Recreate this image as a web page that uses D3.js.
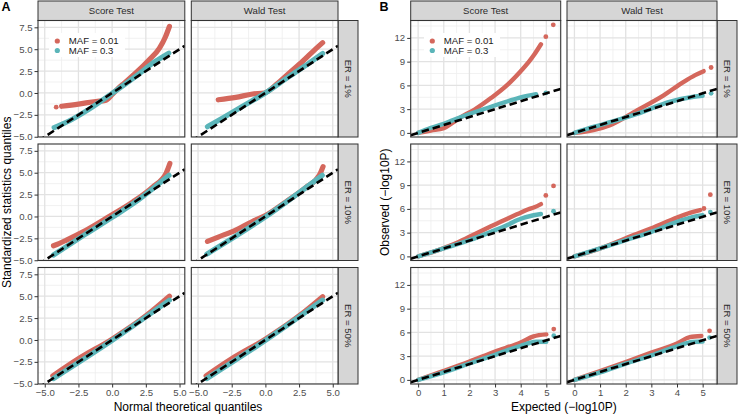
<!DOCTYPE html>
<html lang="en">
<head>
<meta charset="UTF-8">
<title>QQ plots</title>
<script src="https://cdn.jsdelivr.net/npm/d3@7"></script>
<style>
  body { margin: 0; background: #fff; }
  svg text { font-family: "Liberation Sans", Arial, Helvetica, sans-serif; }
</style>
</head>
<body>
<div id="chart"></div>
<script>
const tests = ["Score Test", "Wald Test"];
const errorRates = ["ER = 1%", "ER = 10%", "ER = 50%"];
const mafLabels = ["MAF = 0.01", "MAF = 0.3"];
const mafColors = ["#D4675C", "#5BB5B9"];

// A: [normal theoretical quantile, standardized statistic]
const aScore1Rare = [[-3.75,-1.52],[-2.5,-1.27],[-1.2,-0.97],[-0.5,-0.85],[0.05,-0.1],[0.5,0.6],[0.9,1.12],[1.75,2.28],[2.75,3.8],[3.5,5.1],[3.95,6.4],[4.25,7.6]];
const aScore1RareDots = [[-4.15,-1.62]];
const aScore1Common = [[-4.3,-3.95],[-3.2,-3.2],[-1.7,-1.85],[0,-0.05],[1.75,1.9],[3.2,3.6],[4.2,4.55]];
const aWald1Rare = [[-3.5,-0.78],[-2.2,-0.5],[-0.95,-0.12],[-0.07,0.0],[0.8,0.95],[1.78,2.29],[2.77,3.62],[3.64,4.9],[4.25,5.75]];
const aWald1Common = [[-4.3,-3.85],[-3.17,-2.86],[-1.69,-1.52],[0,0],[1.78,1.9],[3.27,3.43],[4.25,4.5]];
const aScore2Rare = [[-4.35,-3.35],[-4.1,-3.2],[-3.39,-2.7],[-2.16,-1.76],[-0.19,0.03],[1.54,1.67],[3.02,3.39],[4.0,4.92],[4.15,5.5],[4.28,6.05]];
const aScore2Common = [[-4.35,-4.4],[-2,-2.05],[0,-0.1],[2,1.95],[4.22,4.7]];
const aWald2Rare = [[-4.3,-2.85],[-3.5,-2.35],[-2.2,-1.55],[-1,-0.6],[0,0.1],[1.5,1.65],[3,3.3],[4.0,4.7],[4.28,5.7]];
const aWald2Common = [[-4.35,-4.3],[0,-0.05],[4.22,4.7]];
const aScore3Rare = [[-4.4,-4.1],[-2.5,-2.15],[0,0.1],[2.5,2.75],[4.25,5.0]];
const aScore3Common = [[-4.35,-4.4],[0,-0.05],[4.25,4.55]];
const aWald3Rare = [[-4.4,-4.1],[-2.5,-2.15],[0,0.1],[2.5,2.75],[4.25,4.95]];
const aWald3Common = [[-4.35,-4.4],[0,-0.05],[4.25,4.55]];

// B: [expected -log10P, observed -log10P]
const bScore1Rare = [[0,0],[0.5,0.3],[1.0,0.6],[1.4,1.4],[1.8,2.25],[2.2,2.95],[2.84,4.4],[3.49,6.1],[4.0,7.8],[4.3,8.9],[4.53,9.9],[4.79,11.2]];
const bScore1RareDots = [[4.98,12.16],[5.27,13.65]];
const bScore1Common = [[0,0],[0.5,0.65],[1.0,1.15],[1.54,1.85],[2.84,3.3],[3.5,4.0],[4.0,4.5],[4.6,4.9]];
const bScore1CommonDots = [[4.98,5.05]];
const bWald1Rare = [[0,0],[0.74,0.35],[1.39,0.98],[2.44,2.85],[3.48,4.75],[4.26,6.45],[4.71,7.3],[5.04,7.8]];
const bWald1RareDots = [[5.33,8.26]];
const bWald1Common = [[0,0],[0.74,0.76],[1.5,1.45],[2.44,2.4],[3.74,3.94],[4.65,4.57],[5.0,4.7]];
const bWald1CommonDots = [[5.33,5.0]];
const bScore2Rare = [[0,0],[1,1.05],[1.54,1.75],[2.2,2.8],[2.84,3.8],[3.5,4.8],[3.88,5.35],[4.3,5.95],[4.53,6.2],[4.79,6.6]];
const bScore2RareDots = [[4.98,7.7],[5.28,8.9]];
const bScore2Common = [[0,0],[1,1.0],[2,2.05],[2.84,3.1],[3.5,4.0],[3.88,4.6],[4.5,5.2],[4.79,5.35]];
const bScore2CommonDots = [[5.28,5.7]];
const bWald2Rare = [[0,0],[1,1.0],[2,2.3],[3,3.55],[4,4.9],[4.5,5.5],[4.9,5.85]];
const bWald2RareDots = [[5.05,6.05],[5.3,7.8]];
const bWald2Common = [[0,0],[1,1.0],[2,2.05],[3,3.1],[4,4.35],[4.6,4.95],[5.0,5.2]];
const bWald2CommonDots = [[5.3,5.6]];
const bScore3Rare = [[0,0],[1,1.14],[2,2.32],[3,3.59],[4,4.73],[4.5,5.5],[5,5.75]];
const bScore3RareDots = [[5.29,6.42]];
const bScore3Common = [[0,0],[1,0.95],[2,2.07],[3,3.17],[4,4.31],[4.6,4.82],[5,4.82]];
const bScore3CommonDots = [[5.29,5.58]];
const bWald3Rare = [[0,0],[1,1.1],[2,2.25],[3,3.45],[4,4.6],[4.5,5.4],[4.95,5.55]];
const bWald3RareDots = [[5.27,6.2]];
const bWald3Common = [[0,0],[1,0.95],[2,2.05],[3,3.1],[4,4.25],[4.6,4.8],[5,4.85]];
const bWald3CommonDots = [[5.27,5.35]];

// axis breaks
const aTicks = [-5, -2.5, 0, 2.5, 5];
const aYTicks = [-5, -2.5, 0, 2.5, 5, 7.5];
const aMinor = [-3.75, -1.25, 1.25, 3.75];
const aYMinor = [-3.75, -1.25, 1.25, 3.75, 6.25];
const bTicks = [0, 1, 2, 3, 4, 5];
const bYTicks = [0, 3, 6, 9, 12];
const bMinor = [0.5, 1.5, 2.5, 3.5, 4.5, 5.5];
const bYMinor = [1.5, 4.5, 7.5, 10.5, 13.5];

const W = 738, H = 415;
const rows = [[20.5, 137], [144, 260.5], [267.5, 384]];
const stripTop = 1;

const svg = d3.select("#chart").append("svg")
  .attr("width", W).attr("height", H);

// series = [line points, extra dots] for MAF 0.01 then MAF 0.3
const blockA = {
  label: "A", labelX: 1.5,
  cols: [[38, 184.8], [191.3, 338]], stripX: [338, 358],
  xDomain: [-5.5, 5.39], yDomain: [-5.03, 8.28],
  xTicks: aTicks, yTicks: aYTicks, xMinor: aMinor, yMinor: aYMinor,
  fmt: d3.format(".1f"), lineWidth: 5.2,
  xTitle: "Normal theoretical quantiles", yTitle: "Standardized statistics quantiles", yTitleX: 10.5,
  legend: {x: 57.3, y: 41, bg: [49, 33, 76, 24]},
  panels: [
    {row: 0, col: 0, series: [[aScore1Rare, aScore1RareDots], [aScore1Common, []]]},
    {row: 0, col: 1, series: [[aWald1Rare, []], [aWald1Common, []]]},
    {row: 1, col: 0, series: [[aScore2Rare, []], [aScore2Common, []]]},
    {row: 1, col: 1, series: [[aWald2Rare, []], [aWald2Common, []]]},
    {row: 2, col: 0, series: [[aScore3Rare, []], [aScore3Common, []]]},
    {row: 2, col: 1, series: [[aWald3Rare, []], [aWald3Common, []]]}
  ]
};

const blockB = {
  label: "B", labelX: 379.5,
  cols: [[410.7, 560.7], [567, 717]], stripX: [717, 737],
  xDomain: [-0.29, 5.56], yDomain: [-0.52, 14.2],
  xTicks: bTicks, yTicks: bYTicks, xMinor: bMinor, yMinor: bYMinor,
  fmt: d3.format("d"), lineWidth: 4.4,
  xTitle: "Expected (\u2212log10P)", yTitle: "Observed (\u2212log10P)", yTitleX: 388.5,
  legend: {x: 432.3, y: 41, bg: [424, 33, 76, 24]},
  panels: [
    {row: 0, col: 0, series: [[bScore1Rare, bScore1RareDots], [bScore1Common, bScore1CommonDots]]},
    {row: 0, col: 1, series: [[bWald1Rare, bWald1RareDots], [bWald1Common, bWald1CommonDots]]},
    {row: 1, col: 0, series: [[bScore2Rare, bScore2RareDots], [bScore2Common, bScore2CommonDots]]},
    {row: 1, col: 1, series: [[bWald2Rare, bWald2RareDots], [bWald2Common, bWald2CommonDots]]},
    {row: 2, col: 0, series: [[bScore3Rare, bScore3RareDots], [bScore3Common, bScore3CommonDots]]},
    {row: 2, col: 1, series: [[bWald3Rare, bWald3RareDots], [bWald3Common, bWald3CommonDots]]}
  ]
};

let clipId = 0;

function drawBlock(b) {
  const xs = b.cols.map(c => d3.scaleLinear().domain(b.xDomain).range(c));
  const ys = rows.map(r => d3.scaleLinear().domain(b.yDomain).range([r[1], r[0]]));

  // top strips
  b.cols.forEach((c, i) => {
    svg.append("rect")
      .attr("x", c[0]).attr("y", stripTop)
      .attr("width", c[1] - c[0]).attr("height", rows[0][0] - stripTop)
      .attr("fill", "#D6D6D6").attr("stroke", "#333").attr("stroke-width", 1);
    svg.append("text")
      .attr("x", (c[0] + c[1]) / 2).attr("y", (stripTop + rows[0][0]) / 2)
      .attr("dy", "0.35em").attr("text-anchor", "middle")
      .attr("font-size", "9.6px").attr("fill", "#2B2B2B")
      .text(tests[i]);
  });

  // right strips
  rows.forEach((r, i) => {
    svg.append("rect")
      .attr("x", b.stripX[0]).attr("y", r[0])
      .attr("width", b.stripX[1] - b.stripX[0]).attr("height", r[1] - r[0])
      .attr("fill", "#D6D6D6").attr("stroke", "#333").attr("stroke-width", 1);
    const cx = (b.stripX[0] + b.stripX[1]) / 2, cy = (r[0] + r[1]) / 2;
    svg.append("text")
      .attr("transform", `translate(${cx},${cy}) rotate(90)`)
      .attr("dy", "0.35em").attr("text-anchor", "middle")
      .attr("font-size", "9.6px").attr("fill", "#2B2B2B")
      .text(errorRates[i]);
  });

  b.panels.forEach(p => {
    const x = xs[p.col], y = ys[p.row];
    const [x0, x1] = x.range(), [y1, y0] = y.range();
    const id = "clip" + (clipId++);
    svg.append("clipPath").attr("id", id)
      .append("rect").attr("x", x0).attr("y", y0).attr("width", x1 - x0).attr("height", y1 - y0);
    const g = svg.append("g").attr("clip-path", `url(#${id})`);

    g.append("rect").attr("x", x0).attr("y", y0).attr("width", x1 - x0).attr("height", y1 - y0)
      .attr("fill", "#fff");

    // grid
    const grid = (vals, vertical, color, w) => {
      g.selectAll(null).data(vals).enter().append("line")
        .attr("x1", d => vertical ? x(d) : x0).attr("x2", d => vertical ? x(d) : x1)
        .attr("y1", d => vertical ? y0 : y(d)).attr("y2", d => vertical ? y1 : y(d))
        .attr("stroke", color).attr("stroke-width", w);
    };
    grid(b.xMinor, true, "#EDEDED", 0.8);
    grid(b.yMinor, false, "#EDEDED", 0.8);
    grid(b.xTicks, true, "#E2E2E2", 1.3);
    grid(b.yTicks, false, "#E2E2E2", 1.3);

    const line = d3.line().x(d => x(d[0])).y(d => y(d[1])).curve(d3.curveMonotoneX);
    p.series.forEach((s, k) => {
      g.append("path").datum(s[0])
        .attr("d", line)
        .attr("fill", "none").attr("stroke", mafColors[k])
        .attr("stroke-width", b.lineWidth)
        .attr("stroke-linecap", "round").attr("stroke-linejoin", "round");
      g.selectAll(null).data(s[1]).enter().append("circle")
        .attr("cx", d => x(d[0])).attr("cy", d => y(d[1])).attr("r", 2.4)
        .attr("fill", mafColors[k]);
    });

    // identity reference line
    g.append("path").datum([b.xDomain[0], b.xDomain[1]])
      .attr("d", d3.line().x(d => x(d)).y(d => y(d)))
      .attr("fill", "none").attr("stroke", "#000")
      .attr("stroke-width", 2.6).attr("stroke-dasharray", "7.5,4");

    svg.append("rect").attr("x", x0).attr("y", y0).attr("width", x1 - x0).attr("height", y1 - y0)
      .attr("fill", "none").attr("stroke", "#333").attr("stroke-width", 1.1);

    if (p.row === 0 && p.col === 0) drawLegend(b.legend);
  });

  // axes
  const styleAxis = sel => {
    sel.select(".domain").remove();
    sel.selectAll(".tick line").attr("stroke", "#333").attr("stroke-width", 1);
    sel.selectAll(".tick text").attr("fill", "#4D4D4D").attr("font-size", "9.6px")
      .attr("font-family", '"Liberation Sans", Arial, sans-serif');
  };
  xs.forEach(x => {
    svg.append("g").attr("transform", `translate(0,${rows[2][1]})`)
      .call(d3.axisBottom(x).tickValues(b.xTicks).tickFormat(b.fmt).tickSize(3.5).tickPadding(2))
      .call(styleAxis);
  });
  ys.forEach(y => {
    svg.append("g").attr("transform", `translate(${b.cols[0][0]},0)`)
      .call(d3.axisLeft(y).tickValues(b.yTicks).tickFormat(b.fmt).tickSize(3.5).tickPadding(2))
      .call(styleAxis);
  });

  // titles
  svg.append("text")
    .attr("x", (b.cols[0][0] + b.cols[1][1]) / 2).attr("y", 410.5)
    .attr("text-anchor", "middle").attr("font-size", "12px").attr("fill", "#000")
    .text(b.xTitle);
  svg.append("text")
    .attr("transform", `translate(${b.yTitleX},${(rows[0][0] + rows[2][1]) / 2}) rotate(-90)`)
    .attr("text-anchor", "middle").attr("font-size", "12px").attr("fill", "#000")
    .text(b.yTitle);
  svg.append("text")
    .attr("x", b.labelX).attr("y", 11)
    .attr("font-size", "12.5px").attr("font-weight", "bold").attr("fill", "#000")
    .text(b.label);
}

function drawLegend(l) {
  svg.append("rect").attr("x", l.bg[0]).attr("y", l.bg[1]).attr("width", l.bg[2]).attr("height", l.bg[3])
    .attr("fill", "#fff");
  const items = svg.append("g").selectAll("g").data(mafLabels).enter().append("g")
    .attr("transform", (d, i) => `translate(${l.x},${l.y + i * 9.5})`);
  items.append("circle").attr("r", 2.6).attr("fill", (d, i) => mafColors[i]);
  items.append("text").attr("x", 11.5).attr("dy", "0.35em")
    .attr("font-size", "9.6px").attr("fill", "#1A1A1A")
    .text(d => d);
}

drawBlock(blockA);
drawBlock(blockB);
</script>
</body>
</html>
